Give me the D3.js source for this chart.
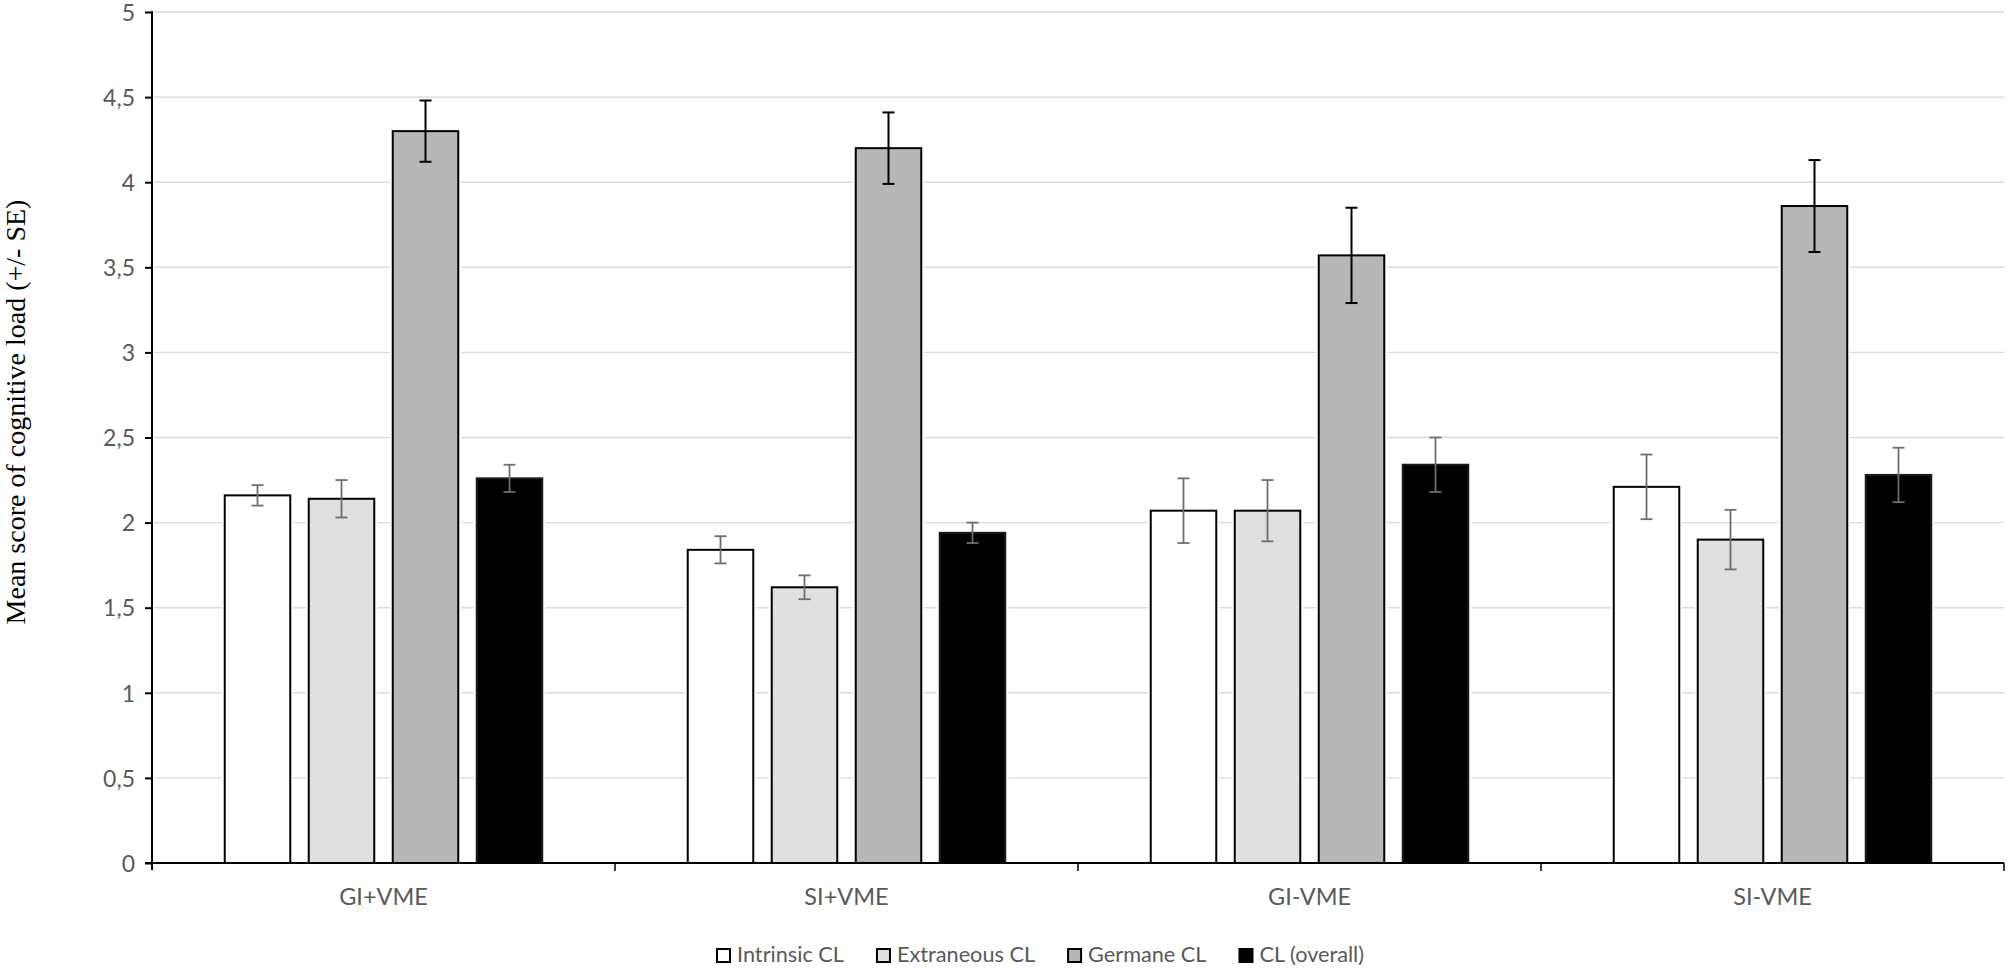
<!DOCTYPE html>
<html>
<head>
<meta charset="utf-8">
<script src="https://cdn.jsdelivr.net/npm/d3@7"></script>
<style>
  html, body { margin: 0; padding: 0; background: #fff; }
  svg { display: block; }
</style>
</head>
<body>
<svg id="chart" width="2008" height="969"></svg>
<script>
const categories = ["GI+VME", "SI+VME", "GI-VME", "SI-VME"];
const seriesNames = ["Intrinsic CL", "Extraneous CL", "Germane CL", "CL (overall)"];
const intrinsic = [2.16, 1.84, 2.07, 2.21];
const intrinsicSE = [0.06, 0.08, 0.19, 0.19];
const extraneous = [2.14, 1.62, 2.07, 1.90];
const extraneousSE = [0.11, 0.07, 0.18, 0.175];
const germane = [4.30, 4.20, 3.57, 3.86];
const germaneSE = [0.18, 0.21, 0.28, 0.27];
const overall = [2.26, 1.94, 2.34, 2.28];
const overallSE = [0.08, 0.06, 0.16, 0.16];
const yTickValues = [0, 0.5, 1, 1.5, 2, 2.5, 3, 3.5, 4, 4.5, 5];
const yTitle = "Mean score of cognitive load (+/- SE)";

const seriesValues = [intrinsic, extraneous, germane, overall];
const seriesSE = [intrinsicSE, extraneousSE, germaneSE, overallSE];
const fills = ["#ffffff", "#e0e0e0", "#b7b7b7", "#000000"];
const errColors = ["#6e6e6e", "#6e6e6e", "#000000", "#6e6e6e"];

const svg = d3.select("#chart");
const plotLeft = 152, plotRight = 2004, plotTop = 12, plotBottom = 863;
const textFont = "Lato, 'Open Sans', sans-serif";
const textColor = "#595959";

const x0 = d3.scaleBand().domain(categories).range([plotLeft, plotRight]).padding(0);
const x1 = d3.scaleBand().domain(seriesNames).range([0, x0.bandwidth()])
  .paddingInner(0.22).paddingOuter(0.866);
const y = d3.scaleLinear().domain([0, 5]).range([plotBottom, plotTop]);

// gridlines
svg.append("g").selectAll("line").data(yTickValues.filter(d => d > 0)).join("line")
  .attr("x1", plotLeft + 2).attr("x2", plotRight)
  .attr("y1", d => y(d)).attr("y2", d => y(d))
  .attr("stroke", "#d9d9d9").attr("stroke-width", 1.4);

// data rows
const rows = [];
categories.forEach((c, ci) => {
  seriesNames.forEach((s, si) => {
    rows.push({ cat: c, ser: s, si: si, v: seriesValues[si][ci], se: seriesSE[si][ci] });
  });
});

const barG = svg.append("g");
barG.selectAll("rect.halo").data(rows).join("rect").attr("class", "halo")
  .attr("x", d => x0(d.cat) + x1(d.ser))
  .attr("y", d => y(d.v))
  .attr("width", x1.bandwidth())
  .attr("height", d => y(0) - y(d.v))
  .attr("fill", "#fff").attr("stroke", "#fff").attr("stroke-width", 6);
barG.selectAll("rect.bar").data(rows).join("rect").attr("class", "bar")
  .attr("x", d => x0(d.cat) + x1(d.ser))
  .attr("y", d => y(d.v))
  .attr("width", x1.bandwidth())
  .attr("height", d => y(0) - y(d.v))
  .attr("fill", d => fills[d.si])
  .attr("stroke", d => d.si === 3 ? "#1a1a1a" : "#000")
  .attr("stroke-width", 2);

// error bars
const errG = svg.append("g");
const capW = 12;
rows.forEach(d => {
  const cx = x0(d.cat) + x1(d.ser) + x1.bandwidth() / 2;
  const col = errColors[d.si];
  const sw = d.si === 2 ? 2 : 1.8;
  const g = errG.append("g").attr("stroke", col).attr("stroke-width", sw);
  g.append("line").attr("x1", cx).attr("x2", cx).attr("y1", y(d.v + d.se)).attr("y2", y(d.v - d.se));
  g.append("line").attr("x1", cx - capW / 2).attr("x2", cx + capW / 2).attr("y1", y(d.v + d.se)).attr("y2", y(d.v + d.se));
  g.append("line").attr("x1", cx - capW / 2).attr("x2", cx + capW / 2).attr("y1", y(d.v - d.se)).attr("y2", y(d.v - d.se));
});

// y axis
const yAxis = d3.axisLeft(y).tickValues(yTickValues)
  .tickFormat(d => String(d).replace(".", ",")).tickSize(7).tickPadding(10);
const yg = svg.append("g").attr("transform", `translate(${plotLeft},0)`).call(yAxis);
yg.select(".domain").remove();
yg.selectAll(".tick line").attr("stroke", "#000").attr("stroke-width", 2);
yg.selectAll(".tick text").attr("fill", textColor).attr("font-family", textFont)
  .attr("font-size", 23).attr("dy", "0.36em");
svg.append("line").attr("x1", plotLeft).attr("x2", plotLeft).attr("y1", plotTop - 1).attr("y2", plotBottom + 7)
  .attr("stroke", "#000").attr("stroke-width", 2);

// x axis
svg.append("line").attr("x1", plotLeft - 7).attr("x2", plotRight).attr("y1", plotBottom).attr("y2", plotBottom)
  .attr("stroke", "#000").attr("stroke-width", 2);
const boundaries = categories.map(c => x0(c)).concat([x0(categories[categories.length - 1]) + x0.bandwidth()]);
svg.append("g").selectAll("line").data(boundaries.slice(1)).join("line")
  .attr("x1", d => d).attr("x2", d => d).attr("y1", plotBottom).attr("y2", plotBottom + 8)
  .attr("stroke", "#000").attr("stroke-width", 1.5);
svg.append("g").selectAll("text").data(categories).join("text")
  .attr("x", d => x0(d) + x0.bandwidth() / 2).attr("y", 905)
  .attr("text-anchor", "middle").attr("fill", textColor)
  .attr("font-family", textFont).attr("font-size", 23.5).text(d => d);

// y title
svg.append("text")
  .attr("transform", `translate(25,412) rotate(-90)`)
  .attr("text-anchor", "middle")
  .attr("font-family", "'Liberation Serif', 'Times New Roman', serif")
  .attr("font-size", 28).attr("fill", "#000").text(yTitle);

// legend
const legend = svg.append("g");
let lx = 717;
const legY = 962;
seriesNames.forEach((s, i) => {
  legend.append("rect").attr("x", lx).attr("y", legY - 13).attr("width", 13).attr("height", 13)
    .attr("fill", fills[i]).attr("stroke", "#000").attr("stroke-width", 2);
  const t = legend.append("text").attr("x", lx + 20).attr("y", legY)
    .attr("fill", textColor).attr("font-family", textFont).attr("font-size", 21.7).text(s);
  const w = t.node().getComputedTextLength();
  lx = lx + 20 + w + 33;
});
</script>
</body>
</html>
